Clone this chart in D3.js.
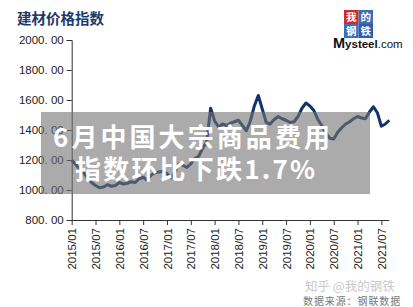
<!DOCTYPE html>
<html>
<head>
<meta charset="utf-8">
<script src="https://cdn.jsdelivr.net/npm/d3@7"></script>
<style>
  html, body { margin: 0; padding: 0; background: #fff; }
  svg { display: block; }
</style>
</head>
<body>
<script>
// monthly index, 2015/01 .. 2021/09
const startYear = 2015;
const values = [
  1200, 1170, 1140, 1115, 1080, 1050, 1030, 1015, 1020, 1035, 1025, 1030,
  1050, 1040, 1045, 1055, 1050, 1075, 1085, 1065, 1100, 1115, 1120, 1125,
  1110, 1080, 1120, 1175, 1165, 1150, 1175, 1210, 1225, 1280, 1320, 1545,
  1460, 1420, 1440, 1430, 1445, 1455, 1465, 1430, 1395, 1460, 1560, 1630,
  1540, 1450, 1440, 1470, 1490, 1475, 1465, 1450, 1455, 1490, 1545, 1580,
  1560, 1530, 1470, 1430, 1380, 1345, 1340, 1385, 1415, 1440, 1455, 1475,
  1490, 1480, 1475, 1520, 1555, 1515, 1425, 1440, 1465
];
const yTicks = [800, 1000, 1200, 1400, 1600, 1800, 2000];
const xTickLabels = ["2015/01", "2015/07", "2016/01", "2016/07", "2017/01", "2017/07",
  "2018/01", "2018/07", "2019/01", "2019/07", "2020/01", "2020/07", "2021/01", "2021/07"];
const title = "建材价格指数";
const headline = ["6月中国大宗商品费用", "指数环比下跌1.7%"];
const watermark = ["知乎 @我的钢铁", "数据来源：钢联数据"];

const W = 413, H = 307;
const svg = d3.select("body").append("svg")
  .attr("width", W).attr("height", H);

const x = d3.scaleLinear().domain([0, 80]).range([71.7, 389.3]);
const y = d3.scaleLinear().domain([800, 2000]).range([220, 40]);
const tickMonth = s => (+s.slice(0, 4) - startYear) * 12 + (+s.slice(5) - 1);

// title
svg.append("text")
  .attr("x", 17).attr("y", 24)
  .attr("font-family", "Noto Sans CJK SC")
  .attr("font-weight", "bold")
  .attr("font-size", 14.5)
  .attr("fill", "#1d3a6b")
  .text(title);

// y axis
const yAxis = svg.append("g")
  .attr("transform", "translate(71.7,0)")
  .call(d3.axisLeft(y).tickValues(yTicks).tickSize(5).tickPadding(3)
    .tickFormat(d => d3.format(".2f")(d).replace(".", ". ")));
yAxis.selectAll("text")
  .attr("font-family", "Liberation Sans, Arial, sans-serif")
  .attr("font-size", 11.5).attr("fill", "#222");
yAxis.selectAll("line, path").attr("stroke", "#333");

// x axis
const xAxis = svg.append("g")
  .attr("transform", "translate(0,220)")
  .call(d3.axisBottom(x).tickValues(xTickLabels.map(tickMonth)).tickSize(5)
    .tickFormat((d, i) => xTickLabels[i]));
xAxis.select(".domain").attr("d", "M71.7,0.5H389.3");
xAxis.selectAll("line, path").attr("stroke", "#333");
xAxis.selectAll("text")
  .attr("font-family", "Liberation Sans, Arial, sans-serif")
  .attr("font-size", 11.5).attr("fill", "#222")
  .attr("text-anchor", "end")
  .attr("transform", "rotate(-90)")
  .attr("x", -8).attr("y", 0).attr("dy", "0.35em");

// line
svg.append("path")
  .datum(values)
  .attr("fill", "none")
  .attr("stroke", "#12346a")
  .attr("stroke-width", 3)
  .attr("stroke-linejoin", "round")
  .attr("d", d3.line().x((d, i) => x(i)).y(d => y(d)));

// logo
const logo = svg.append("g");
const cells = [
  { t: "我", c: "#d32a2a", dx: 0, dy: 0 },
  { t: "的", c: "#3d6db5", dx: 1, dy: 0 },
  { t: "钢", c: "#3d6db5", dx: 0, dy: 1 },
  { t: "铁", c: "#2f5ea8", dx: 1, dy: 1 }
];
cells.forEach(k => {
  logo.append("rect")
    .attr("x", 344 + k.dx * 14.5).attr("y", 10 + k.dy * 14)
    .attr("width", 14.5).attr("height", 14)
    .attr("fill", k.c);
  logo.append("text")
    .attr("x", 344 + k.dx * 14.5 + 7.25).attr("y", 10 + k.dy * 14 + 11)
    .attr("text-anchor", "middle")
    .attr("font-family", "Noto Sans CJK SC")
    .attr("font-weight", "bold")
    .attr("font-size", 10.5).attr("fill", "#fff")
    .text(k.t);
});
logo.append("text")
  .attr("x", 333).attr("y", 48)
  .attr("font-family", "Liberation Sans, Arial, sans-serif")
  .attr("font-size", 11.5).attr("fill", "#111")
  .html('<tspan font-size="14.5" font-weight="bold">M</tspan><tspan font-weight="bold">ysteel</tspan>.com');

// watermark
svg.append("text")
  .attr("x", 305).attr("y", 291)
  .attr("font-family", "Noto Sans CJK SC")
  .attr("font-size", 12.5).attr("fill", "#c8c8c8")
  .text(watermark[0]);
svg.append("text")
  .attr("x", 303).attr("y", 305)
  .attr("font-family", "Noto Sans CJK SC")
  .attr("font-size", 10).attr("fill", "#777")
  .attr("letter-spacing", 0.9)
  .text(watermark[1]);

// headline overlay
svg.append("rect")
  .attr("x", 41).attr("y", 112).attr("width", 329).attr("height", 82)
  .attr("fill", "rgb(115,115,115)").attr("fill-opacity", 0.6);
svg.selectAll(".hl").data(headline).join("text")
  .attr("class", "hl")
  .attr("x", (d, i) => i === 0 ? 53 : 75)
  .attr("y", (d, i) => i === 0 ? 147 : 179)
  .attr("font-family", "Noto Sans CJK SC")
  .attr("font-weight", "bold")
  .attr("font-size", 26)
  .attr("fill", "#fff")
  .attr("textLength", (d, i) => i === 0 ? 277 : 240)
  .attr("lengthAdjust", "spacing")
  .text(d => d);
</script>
</body>
</html>
